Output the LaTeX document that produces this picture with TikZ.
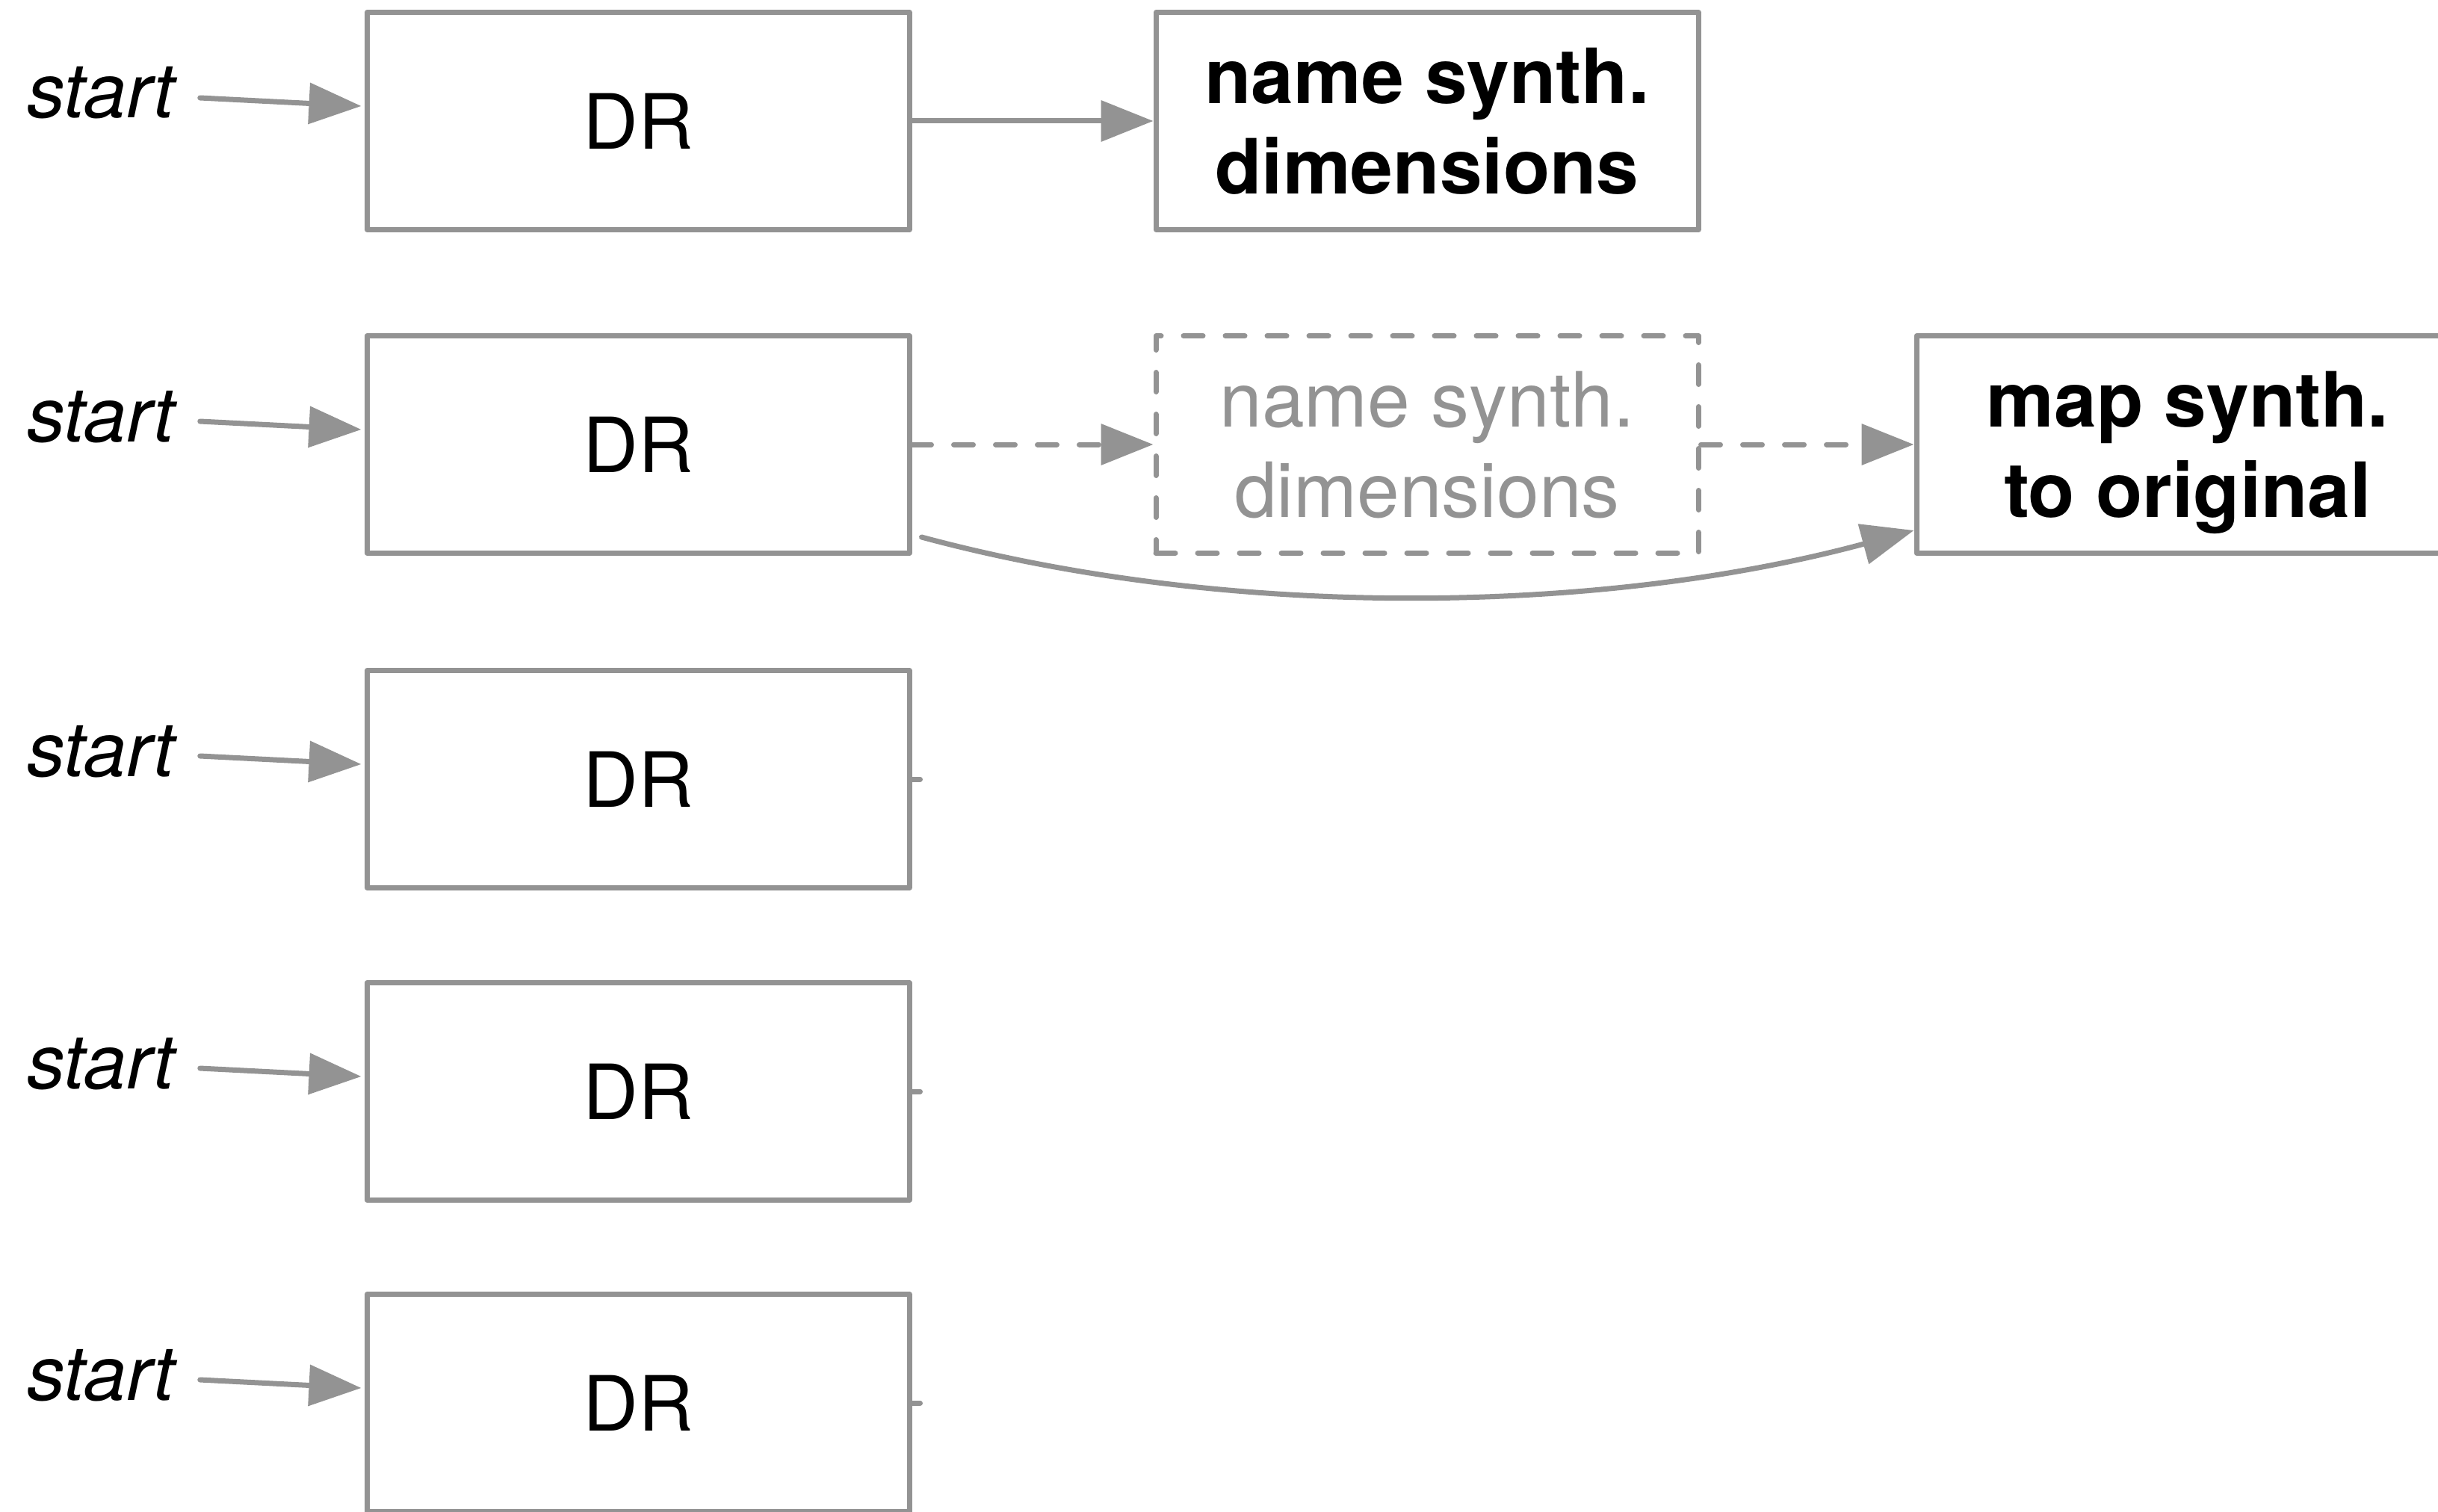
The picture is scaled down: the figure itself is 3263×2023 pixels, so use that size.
\documentclass[tikz,border=0pt]{standalone}
\usepackage{fontspec}
\setmainfont{TeX Gyre Heros}
\usetikzlibrary{arrows.meta,calc}
\definecolor{linegray}{HTML}{939393}
\begin{document}
\begin{tikzpicture}[x=0.25pt,y=-0.25pt,
  box/.style={draw=linegray, line width=1.75pt, line join=round,
    minimum width=181.5pt, minimum height=72.75pt, inner sep=0pt,
    text depth=0pt, align=center, font=\fontsize{25.5}{30.25}\selectfont},
  ghost/.style={box, dash pattern=on 6.5pt off 7.5pt, line cap=round, text=linegray},
  hi/.style={box, font=\fontsize{25.5}{30.25}\selectfont\bfseries},
  lbl/.style={anchor=base, inner sep=0pt, font=\fontsize{25.5}{30.25}\selectfont\itshape},
  conn/.style={draw=linegray, line width=1.75pt, line cap=round},
  arr/.style={conn, -{Triangle[length=17.5pt,width=13.5pt]}},
  darr/.style={arr, dash pattern=on 6.5pt off 7.5pt}
]
\clip (0,0) rectangle (3263,2023);

% the five DR boxes, each fed by a "start" label
\foreach \i/\c in {1/162,2/595,3/1043,4/1461,5/1878} {
  \node[box] (d\i) at (854,\c) {DR};
  \node[lbl] (s\i) at (135,\c-4) {start};
  \draw[arr] ($(s\i.base east)+(33,-27)$) -- ($(d\i.west)+(-4,-20)$);
}

% short output stubs on the lower boxes
\foreach \i in {3,4,5} {
  \coordinate (t\i) at ($(d\i.east)+(11,0)$);
  \draw[conn] (d\i.east) -- (t\i);
}

% downstream steps
\node[hi] (n1) at (1910,162) {name synth.\\dimensions};
\node[ghost] (g2) at (1910,595) {name synth.\\dimensions};
\node[hi] (m2) at (2928,595) {map synth.\\to original};

\draw[arr] (d1.east) -- (n1.west);
\draw[darr] (d2.east) -- (g2.west);
\draw[darr] (g2.east) -- (m2.west);
\draw[arr] ($(d2.south east)+(13,-25)$)
  .. controls +(415,112) and +(-415,112) .. ($(m2.west)+(0,115)$);
\end{tikzpicture}
\end{document}
